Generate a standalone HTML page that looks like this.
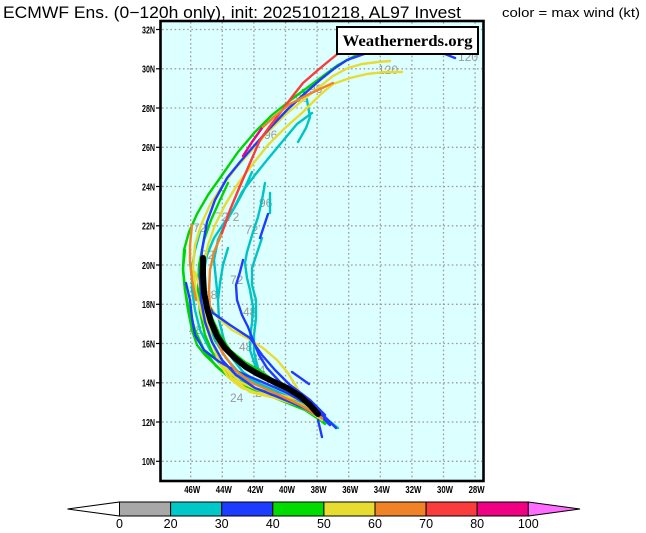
<!DOCTYPE html>
<html><head><meta charset="utf-8"><style>
html,body{margin:0;padding:0;background:#fff;}
svg{display:block;}
</style></head><body>
<svg width="646" height="533" viewBox="0 0 646 533" xmlns="http://www.w3.org/2000/svg">
<rect x="0" y="0" width="646" height="533" fill="#fff"/>
<text x="3" y="18" font-family="Liberation Sans, sans-serif" font-size="16.5" textLength="458" lengthAdjust="spacingAndGlyphs" fill="#000">ECMWF Ens. (0−120h only), init: 2025101218, AL97 Invest</text>
<text x="502" y="17" font-family="Liberation Sans, sans-serif" font-size="13" textLength="138" lengthAdjust="spacingAndGlyphs" fill="#000">color = max wind (kt)</text>

<rect x="160.5" y="21" width="323" height="460" fill="#dcffff"/>
<g stroke="#9c9c9c" stroke-width="1.3" stroke-dasharray="1.6 2.6" fill="none">
<line x1="190.7" y1="22" x2="190.7" y2="480"/><line x1="222.3" y1="22" x2="222.3" y2="480"/>
<line x1="253.9" y1="22" x2="253.9" y2="480"/><line x1="285.5" y1="22" x2="285.5" y2="480"/>
<line x1="317.1" y1="22" x2="317.1" y2="480"/><line x1="348.7" y1="22" x2="348.7" y2="480"/>
<line x1="380.3" y1="22" x2="380.3" y2="480"/><line x1="411.9" y1="22" x2="411.9" y2="480"/>
<line x1="443.5" y1="22" x2="443.5" y2="480"/><line x1="475.1" y1="22" x2="475.1" y2="480"/>
<line x1="162" y1="29.5" x2="482" y2="29.5"/><line x1="162" y1="68.8" x2="482" y2="68.8"/>
<line x1="162" y1="108" x2="482" y2="108"/><line x1="162" y1="147.3" x2="482" y2="147.3"/>
<line x1="162" y1="186.5" x2="482" y2="186.5"/><line x1="162" y1="225.8" x2="482" y2="225.8"/>
<line x1="162" y1="265" x2="482" y2="265"/><line x1="162" y1="304.3" x2="482" y2="304.3"/>
<line x1="162" y1="343.5" x2="482" y2="343.5"/><line x1="162" y1="382.8" x2="482" y2="382.8"/>
<line x1="162" y1="422" x2="482" y2="422"/><line x1="162" y1="461.3" x2="482" y2="461.3"/>
</g>

<g font-family="Liberation Sans, sans-serif" font-size="12" fill="#9a9a9a">
<text x="458" y="61">120</text>
<text x="378" y="74">120</text>
<text x="309" y="93">96</text>
<text x="295" y="102">96</text>
<text x="264" y="139">96</text>
<text x="259" y="207">96</text>
<text x="215" y="221">72</text>
<text x="226" y="221">72</text>
<text x="193" y="232">72</text>
<text x="245" y="234">72</text>
<text x="201" y="259">72</text>
<text x="230" y="284">72</text>
<text x="204" y="299">48</text>
<text x="243" y="316">48</text>
<text x="189" y="334">48</text>
<text x="211" y="344">48</text>
<text x="239" y="351">48</text>
<text x="251" y="362">24</text>
<text x="252" y="374">24</text>
<text x="230" y="402">24</text>
<text x="255" y="397">24</text>
</g>

<g fill="none" stroke-width="2.4" stroke-linejoin="round" stroke-linecap="round">
<polyline stroke="#00c4c4" points="338,428 318,412 300,400 280,388 265,378 255,365 250,350 250,337 252,323 253,307 250,290 247,278 245,263 247,252 253,232 258,217 262,200 265,183"/>
<polyline stroke="#00c4c4" points="330,425 308,408 285,395 262,385 240,374 226,358 215,340 207,320 203,298 203,276 207,255 214,238 224,223 234,208 242,192 255,175 267,160 282,142 297,124 312,113"/>
<polyline stroke="#00c4c4" points="298,142 306,128 310,117 307,100 303,90"/>
<polyline stroke="#00c4c4" points="328,422 305,407 282,394 260,384 243,372 232,358 224,340 219,320 218,300 220,283 223,265 228,248"/>
<polyline stroke="#00c4c4" points="218,300 216,280 214,260 218,240 226,222 236,205 244,190 252,172"/>
<polyline stroke="#00c4c4" points="326,420 300,403 270,390 245,380 225,367 210,350 200,330 195,310 192,290 192,268 195,250 200,232"/>
<polyline stroke="#00c4c4" points="325,418 300,400 282,390 268,380 258,368 254,352 254,335 256,318 256,300 252,285 252,268 258,250 262,238"/>
<polyline stroke="#00c4c4" points="270,213 270,193"/>
<polyline stroke="#00d400" points="323,422 305,410 280,400 255,390 232,380 216,366 204,350 195,330 189,310 185,290 183,270 184,250 189,232 197,214 208,195 220,178 238,152 255,132 272,115 292,99 315,82 338,65 362,52"/>
<polyline stroke="#00d400" points="318,416 296,402 270,393 248,386 228,374 214,356 205,335 200,312 198,290 199,265 204,240 211,220 220,200 228,183"/>
<polyline stroke="#00d400" points="325,424 310,412 283,398 253,388 223,372 205,355 197,345 192,330 188,310 185,290 183,268 185,250"/>
<polyline stroke="#00d400" points="320,414 300,398 280,385 262,372 245,362 230,350 220,335 212,318 208,300"/>
<polyline stroke="#e6dc32" points="320,418 300,406 275,398 250,392 232,378 220,360 210,338 202,315 196,292 193,268 195,245 201,225 210,205 222,186 236,168 252,150 268,132 285,115 303,100 318,88 333,76 348,68 362,64 378,62 390,61"/>
<polyline stroke="#e6dc32" points="322,420 300,404 278,395 258,390 240,382 226,368 216,350 208,330 204,310 202,290 203,268 208,245 215,225 225,205 237,185 252,165 268,145 285,128 303,112 320,95 333,84 350,78 367,74 385,72 402,72"/>
<polyline stroke="#e6dc32" points="320,413 310,405 300,393 288,373 277,360 263,348 247,338 232,330 218,318 208,303 200,288 195,272"/>
<polyline stroke="#e6dc32" points="318,414 300,400 280,395 257,393 242,388 228,377 218,360 212,340 207,320 203,300"/>
<polyline stroke="#1e3cff" points="322,418 302,407 278,397 255,388 236,375 222,360 212,342 205,322 201,300 200,275 202,250 207,222 215,200 227,178 240,162 253,147 270,128 287,110 303,95 320,80 335,68 347,60 367,53 400,47 425,48 440,52 455,58"/>
<polyline stroke="#1e3cff" points="243,260 240,272 236,285 237,300 242,315 248,327 253,340 259,355 267,368 280,382 298,396 315,410 330,425"/>
<polyline stroke="#1e3cff" points="186,283 190,300 192,318 195,335 204,350 218,361 236,371 260,381 285,392 305,403 322,418"/>
<polyline stroke="#1e3cff" points="205,298 213,313 230,325 250,338 262,355 275,370 290,385 310,400 325,415"/>
<polyline stroke="#1e3cff" points="292,372 309,384"/>
<polyline stroke="#1e3cff" points="318,420 322,437"/>
<polyline stroke="#1e3cff" points="316,408 336,428"/>
<polyline stroke="#1e3cff" points="260,238 264,226 268,214"/>
<polyline stroke="#f08228" points="192,225 190,245 190,262 192,280 196,300"/>
<polyline stroke="#f08228" points="322,418 300,405 275,393 252,383 235,370 222,352 214,332 210,310 209,290 210,270 214,252 222,233"/>
<polyline stroke="#fa3c3c" points="222,233 230,210 240,186 250,163 260,140 270,126 280,113 292,97 303,83 318,70 330,60 340,52"/>
<polyline stroke="#f00082" points="243,156 252,142 262,128"/>
<polyline stroke="#f08228" points="263,127 275,116 290,104 307,95 320,89 333,83"/>
</g>
<polyline fill="none" stroke="#000" stroke-width="6" stroke-linejoin="round" stroke-linecap="round" points="203,258 203,275 204,292 207,308 211,322 217,336 225,348 235,358 246,367 258,374 272,381 287,388 300,396 310,405 318,414"/>

<rect x="337" y="27" width="141" height="27" fill="#fff" stroke="#000" stroke-width="2"/>
<text x="407.5" y="46" text-anchor="middle" font-family="Liberation Serif, serif" font-weight="bold" font-size="16" textLength="130" lengthAdjust="spacingAndGlyphs" fill="#000">Weathernerds.org</text>

<rect x="160.5" y="21" width="323" height="460" fill="none" stroke="#000" stroke-width="2.6"/>

<g stroke="#000" stroke-width="1.2">
<line x1="156" y1="29.5" x2="160" y2="29.5"/><line x1="156" y1="68.8" x2="160" y2="68.8"/>
<line x1="156" y1="108" x2="160" y2="108"/><line x1="156" y1="147.3" x2="160" y2="147.3"/>
<line x1="156" y1="186.5" x2="160" y2="186.5"/><line x1="156" y1="225.8" x2="160" y2="225.8"/>
<line x1="156" y1="265" x2="160" y2="265"/><line x1="156" y1="304.3" x2="160" y2="304.3"/>
<line x1="156" y1="343.5" x2="160" y2="343.5"/><line x1="156" y1="382.8" x2="160" y2="382.8"/>
<line x1="156" y1="422" x2="160" y2="422"/><line x1="156" y1="461.3" x2="160" y2="461.3"/>
</g>
<g font-family="Liberation Sans, sans-serif" font-weight="bold" font-size="10.5" fill="#000" text-anchor="end">
<text x="155" y="33.3" textLength="13" lengthAdjust="spacingAndGlyphs">32N</text>
<text x="155" y="72.6" textLength="13" lengthAdjust="spacingAndGlyphs">30N</text>
<text x="155" y="111.8" textLength="13" lengthAdjust="spacingAndGlyphs">28N</text>
<text x="155" y="151.1" textLength="13" lengthAdjust="spacingAndGlyphs">26N</text>
<text x="155" y="190.3" textLength="13" lengthAdjust="spacingAndGlyphs">24N</text>
<text x="155" y="229.6" textLength="13" lengthAdjust="spacingAndGlyphs">22N</text>
<text x="155" y="268.8" textLength="13" lengthAdjust="spacingAndGlyphs">20N</text>
<text x="155" y="308.1" textLength="13" lengthAdjust="spacingAndGlyphs">18N</text>
<text x="155" y="347.3" textLength="13" lengthAdjust="spacingAndGlyphs">16N</text>
<text x="155" y="386.6" textLength="13" lengthAdjust="spacingAndGlyphs">14N</text>
<text x="155" y="425.8" textLength="13" lengthAdjust="spacingAndGlyphs">12N</text>
<text x="155" y="465.1" textLength="13" lengthAdjust="spacingAndGlyphs">10N</text>
</g>
<g font-family="Liberation Sans, sans-serif" font-weight="bold" font-size="10.5" fill="#000" text-anchor="middle">
<text x="192.2" y="493" textLength="16" lengthAdjust="spacingAndGlyphs">46W</text>
<text x="223.8" y="493" textLength="16" lengthAdjust="spacingAndGlyphs">44W</text>
<text x="255.4" y="493" textLength="16" lengthAdjust="spacingAndGlyphs">42W</text>
<text x="287" y="493" textLength="16" lengthAdjust="spacingAndGlyphs">40W</text>
<text x="318.6" y="493" textLength="16" lengthAdjust="spacingAndGlyphs">38W</text>
<text x="350.2" y="493" textLength="16" lengthAdjust="spacingAndGlyphs">36W</text>
<text x="381.8" y="493" textLength="16" lengthAdjust="spacingAndGlyphs">34W</text>
<text x="413.4" y="493" textLength="16" lengthAdjust="spacingAndGlyphs">32W</text>
<text x="445" y="493" textLength="16" lengthAdjust="spacingAndGlyphs">30W</text>
<text x="476.6" y="493" textLength="16" lengthAdjust="spacingAndGlyphs">28W</text>
</g>

<g stroke="#000" stroke-width="1">
<polygon points="67.5,509 119.5,502 119.5,516" fill="#fff"/>
<rect x="119.5" y="502" width="51.1" height="14" fill="#a8a8a8"/>
<rect x="170.6" y="502" width="51.1" height="14" fill="#00c8c8"/>
<rect x="221.7" y="502" width="51.1" height="14" fill="#1e3cff"/>
<rect x="272.8" y="502" width="51.1" height="14" fill="#00dc00"/>
<rect x="323.9" y="502" width="51.1" height="14" fill="#e6dc32"/>
<rect x="375" y="502" width="51.1" height="14" fill="#f08228"/>
<rect x="426.1" y="502" width="51.1" height="14" fill="#fa3c3c"/>
<rect x="477.2" y="502" width="51.1" height="14" fill="#f00082"/>
<polygon points="528.3,502 580,509 528.3,516" fill="#ff6cff"/>
</g>
<g font-family="Liberation Sans, sans-serif" font-size="12.5" fill="#000" text-anchor="middle">
<text x="119.5" y="528">0</text>
<text x="170.6" y="528">20</text>
<text x="221.7" y="528">30</text>
<text x="272.8" y="528">40</text>
<text x="323.9" y="528">50</text>
<text x="375" y="528">60</text>
<text x="426.1" y="528">70</text>
<text x="477.2" y="528">80</text>
<text x="528.3" y="528">100</text>
</g>
</svg>
</body></html>
